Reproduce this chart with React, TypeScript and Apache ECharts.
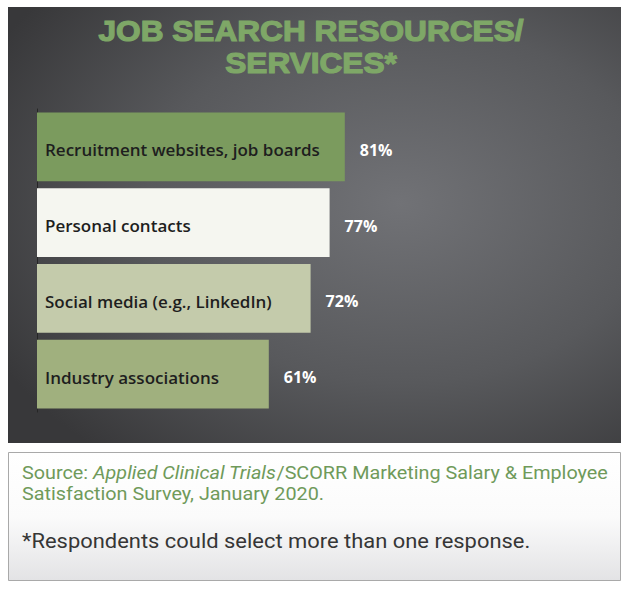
import React, { useEffect, useRef } from "react";
import * as echarts from "echarts";

const categories = [
  "Recruitment websites, job boards",
  "Personal contacts",
  "Social media (e.g., LinkedIn)",
  "Industry associations",
];
const values = [81, 77, 72, 61];
const barColors = ["#7b9b5e", "#f5f6f0", "#c4cbab", "#a0b07e"];
const titleLines = ["JOB SEARCH RESOURCES/", "SERVICES*"];
const sourceText =
  "Source: {i|Applied Clinical Trials}/SCORR Marketing Salary & Employee\nSatisfaction Survey, January 2020.";
const noteText = "*Respondents could select more than one response.";

export default function App() {
  const ref = useRef<HTMLDivElement>(null);
  useEffect(() => {
    if (!ref.current) return;
    const chart = echarts.init(ref.current, null, { renderer: "svg" });
    chart.setOption({
      animation: false,
      backgroundColor: "#ffffff",
      grid: { left: 37, top: 109, width: 380, height: 303, containLabel: false },
      xAxis: { type: "value", min: 0, max: 100, show: false },
      yAxis: {
        type: "category",
        data: categories,
        inverse: true,
        axisLine: { show: true, lineStyle: { color: "#262626", width: 1 } },
        axisTick: { show: false },
        axisLabel: { show: false },
        splitLine: { show: false },
      },
      graphic: [
        {
          type: "rect",
          z: -10,
          shape: { x: 8, y: 7, width: 613, height: 436 },
          style: {
            fill: new echarts.graphic.RadialGradient(0.64, 0.45, 0.75, [
              { offset: 0, color: "#717276" },
              { offset: 0.55, color: "#58595c" },
              { offset: 1, color: "#38383a" },
            ]),
          },
        },
        {
          type: "text",
          x: 311,
          y: 15,
          scaleX: 1.09,
          style: {
            text: titleLines.join("\n"),
            textAlign: "center",
            fontFamily: "Liberation Sans",
            fontWeight: 900,
            fontSize: 29,
            lineHeight: 32,
            fill: "#7ea767",
            stroke: "#7ea767",
            lineWidth: 1.2,
          },
        },
        {
          type: "rect",
          z: -10,
          shape: { x: 8.5, y: 452.5, width: 612, height: 128 },
          style: {
            fill: new echarts.graphic.LinearGradient(0, 0, 0, 1, [
              { offset: 0, color: "#ffffff" },
              { offset: 0.5, color: "#fbfbfb" },
              { offset: 1, color: "#e3e3e5" },
            ]),
            stroke: "#a9a9a9",
            lineWidth: 1,
          },
        },
        {
          type: "text",
          x: 22,
          y: 462,
          scaleX: 1.1,
          style: {
            text: sourceText,
            fontFamily: "Roboto",
            fontSize: 18,
            lineHeight: 21,
            fill: "#6f9a5a",
            rich: {
              i: {
                fontStyle: "italic",
                fontFamily: "Roboto",
                fontSize: 18,
                lineHeight: 21,
                fill: "#6f9a5a",
              },
            },
          },
        },
        {
          type: "text",
          x: 22,
          y: 530,
          scaleX: 1.07,
          style: {
            text: noteText,
            fontFamily: "Roboto",
            fontSize: 20.5,
            fill: "#363636",
          },
        },
      ],
      series: [
        {
          type: "bar",
          data: values.map((v, i) => ({ value: v, itemStyle: { color: barColors[i] } })),
          barCategoryGap: "9%",
          label: {
            show: true,
            position: "insideLeft",
            distance: 8,
            offset: [0, 3],
            formatter: (p: any) => p.name,
            color: "#1e1e1e",
            fontFamily: "Open Sans",
            fontWeight: 600,
            fontSize: 17,
          },
          z: 2,
        },
        {
          type: "bar",
          data: values,
          barGap: "-100%",
          barCategoryGap: "9%",
          itemStyle: { color: "rgba(0,0,0,0)" },
          label: {
            show: true,
            position: "right",
            distance: 15,
            offset: [0, 3],
            formatter: (p: any) => p.value + "%",
            color: "#ffffff",
            fontFamily: "Open Sans",
            fontWeight: 700,
            fontSize: 16,
          },
          z: 3,
        },
      ],
    });
    return () => chart.dispose();
  }, []);
  return (
    <div
      ref={ref}
      style={{ position: "absolute", left: 0, top: 0, width: 630, height: 590 }}
    />
  );
}
